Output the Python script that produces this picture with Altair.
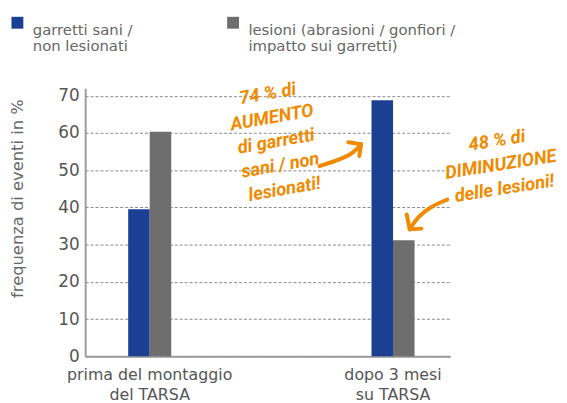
import altair as alt
import pandas as pd

# ---- data ----
categories = ["prima del montaggio|del TARSA", "dopo 3 mesi|su TARSA"]
series = ["garretti sani /|non lesionati", "lesioni (abrasioni / gonfiori /|impatto sui garretti)"]
healthy = [39.5, 68.8]
lesions = [60.3, 31.2]
colors = ["#1a3f93", "#6e6e6e"]
y_ticks = [0, 10, 20, 30, 40, 50, 60, 70]

# annotation texts (anchor of first line: plot fraction on x, data value on y)
note_texts = ["74 % di\nAUMENTO\ndi garretti\nsani / non\nlesionati!",
              "48 % di\nDIMINUZIONE\ndelle lesioni!"]
note_x = [0.500, 1.128]
note_y = [70.6, 58.0]
note_angle = [350, 351]

# arrows: shaft points and head points (plot fraction x, data y)
shaft1_x = [0.642, 0.702, 0.737, 0.756]
shaft1_y = [51.1, 53.0, 54.8, 57.0]
head1_x = [0.721, 0.756, 0.751]
head1_y = [57.5, 57.0, 53.8]
shaft2_x = [0.992, 0.946, 0.911, 0.889]
shaft2_y = [42.1, 40.2, 37.5, 34.1]
head2_x = [0.881, 0.889, 0.921]
head2_y = [38.1, 34.1, 34.3]

rows = []
for c, h, l in zip(categories, healthy, lesions):
    rows.append({"cat": c, "serie": series[0], "val": h})
    rows.append({"cat": c, "serie": series[1], "val": l})
bars_df = pd.DataFrame(rows)

notes_df = pd.DataFrame({"t": note_texts, "x": note_x, "y": note_y, "a": note_angle})

shaft_rows = []
for name, xs, ys in [("s1", shaft1_x, shaft1_y), ("s2", shaft2_x, shaft2_y)]:
    for i, (xv, yv) in enumerate(zip(xs, ys)):
        shaft_rows.append({"p": name, "o": i, "x": xv, "y": yv})
shaft_df = pd.DataFrame(shaft_rows)
head_rows = []
for name, xs, ys in [("h1", head1_x, head1_y), ("h2", head2_x, head2_y)]:
    for i, (xv, yv) in enumerate(zip(xs, ys)):
        head_rows.append({"p": name, "o": i, "x": xv, "y": yv})
head_df = pd.DataFrame(head_rows)

FONT = "DejaVu Sans"
ORANGE = "#f08a00"
HAND = "Roboto, Lato, sans-serif"

yscale = alt.Scale(domain=[0, 72], nice=False)
yaxis = alt.Axis(values=y_ticks, title="frequenza di eventi in %",
                 titleFont=FONT, titleFontSize=16.5, titleFontWeight="normal",
                 titleColor="#666666", titleX=-68, titleY=111,
                 titleAlign="center", titleBaseline="middle",
                 labelFont=FONT, labelFontSize=17, labelColor="#555555",
                 labelPadding=6, labelOverlap=False, ticks=False,
                 domainColor="#9a9a9a", domainWidth=2,
                 grid=True, gridColor="#888888", gridDash=[3, 2], gridWidth=1)

bars = alt.Chart(bars_df).mark_bar().encode(
    x=alt.X("cat:N", sort=categories,
            scale=alt.Scale(paddingInner=0.823, paddingOuter=0.1616, align=0.547),
            axis=alt.Axis(title=None, labelAngle=0, labelExpr="split(datum.label, '|')",
                          labelFont=FONT, labelFontSize=16, labelColor="#555555",
                          labelLineHeight=21, labelPadding=10, ticks=False,
                          domainColor="#9a9a9a", domainWidth=2)),
    xOffset=alt.XOffset("serie:N", sort=series, scale=alt.Scale(paddingInner=0, paddingOuter=0)),
    y=alt.Y("val:Q", scale=yscale, axis=yaxis),
    color=alt.Color("serie:N", sort=series, scale=alt.Scale(domain=series, range=colors),
                    legend=alt.Legend(title=None, orient="none", legendX=-76, legendY=-74,
                                      direction="horizontal", columns=2, columnPadding=94,
                                      symbolType="square", symbolSize=144, symbolStrokeWidth=0,
                                      labelExpr="split(datum.label, '|')",
                                      labelFont=FONT, labelFontSize=15, labelColor="#666666",
                                      labelLimit=400, labelOffset=8, labelBaseline="top")),
)

xq = alt.Scale(domain=[0, 1], nice=False, zero=False)

notes = alt.Chart(notes_df).mark_text(
    font=HAND, fontSize=18.5, fontWeight="bold", fontStyle="italic", color=ORANGE,
    lineBreak="\n", lineHeight=24.5, align="center", baseline="middle"
).encode(
    x=alt.X("x:Q", scale=xq, axis=None),
    y=alt.Y("y:Q", scale=yscale, axis=yaxis),
    text="t:N",
    angle=alt.Angle("a:Q", scale=None),
)

shafts = alt.Chart(shaft_df).mark_line(
    color=ORANGE, strokeWidth=4, strokeCap="round", interpolate="basis", clip=False
).encode(
    x=alt.X("x:Q", scale=xq, axis=None),
    y=alt.Y("y:Q", scale=yscale, axis=yaxis),
    detail="p:N", order="o:Q",
)

heads = alt.Chart(head_df).mark_line(
    color=ORANGE, strokeWidth=4, strokeCap="round", strokeJoin="round", clip=False
).encode(
    x=alt.X("x:Q", scale=xq, axis=None),
    y=alt.Y("y:Q", scale=yscale, axis=yaxis),
    detail="p:N", order="o:Q",
)

chart = alt.layer(bars, notes, shafts, heads).resolve_scale(
    x="independent"
).properties(
    width=369, height=271,
    autosize=alt.AutoSizeParams(type="none"),
    padding={"left": 78, "top": 79, "right": 110, "bottom": 45},
).configure_view(stroke=None)

chart.save("out.html", embed_options={"renderer": "svg", "actions": False})
